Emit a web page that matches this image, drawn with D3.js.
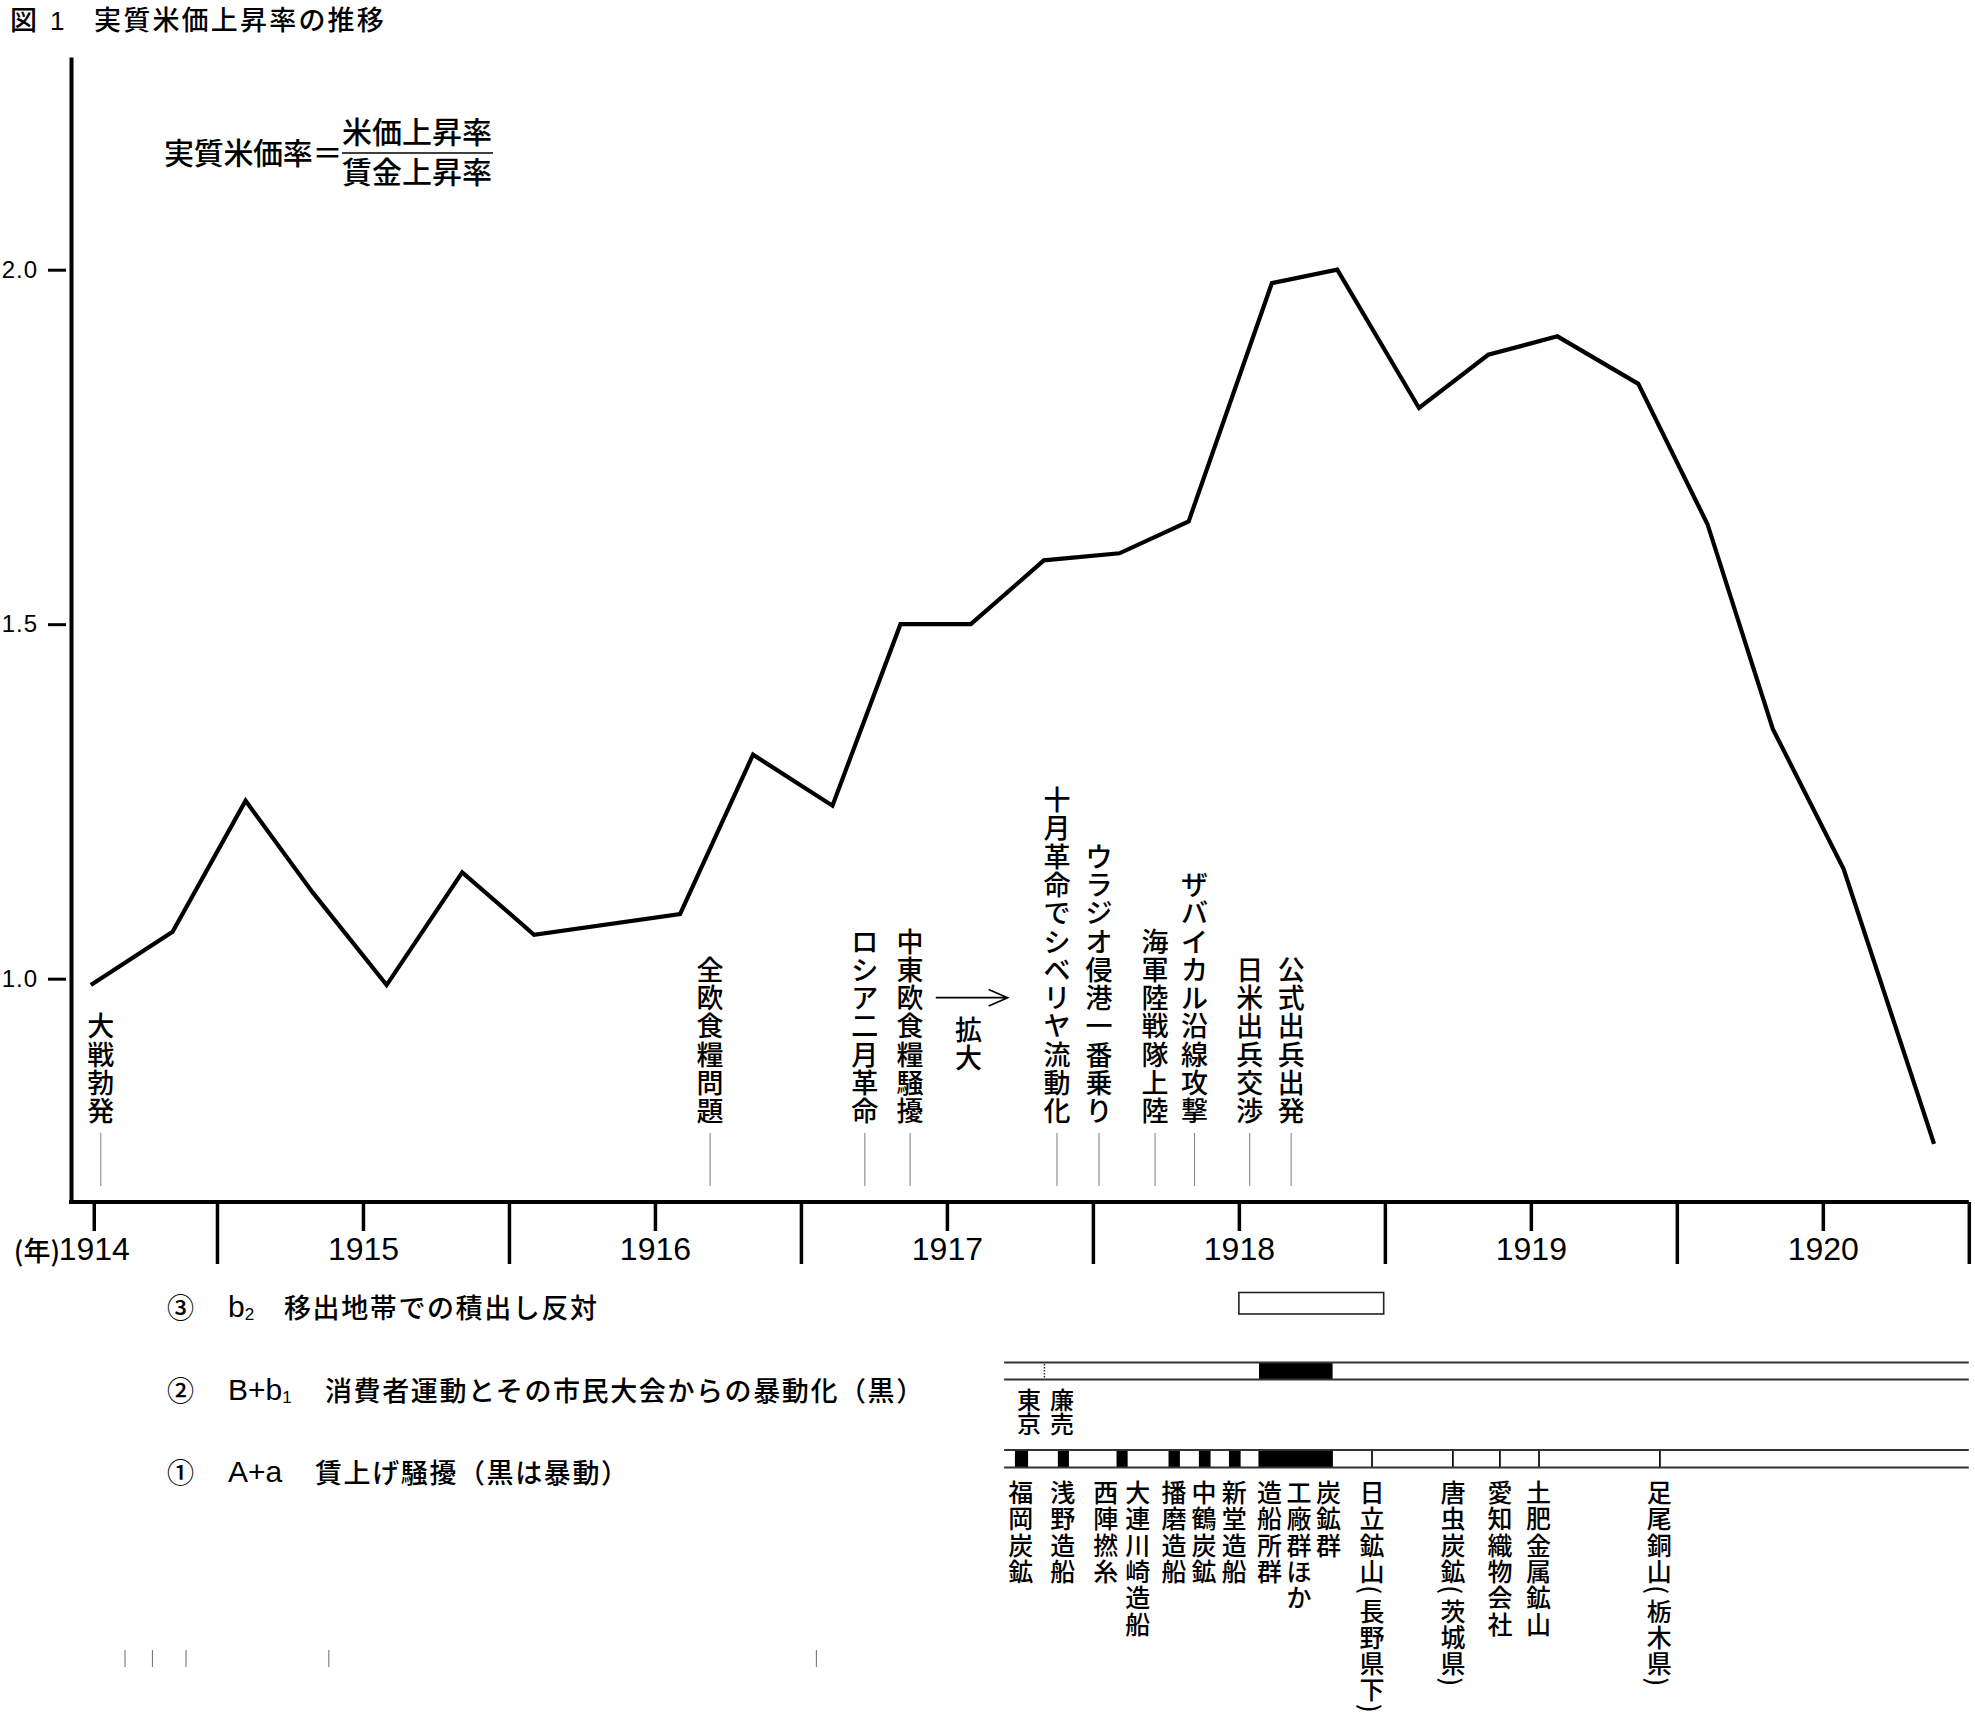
<!DOCTYPE html>
<html><head><meta charset="utf-8">
<script src="https://cdn.jsdelivr.net/npm/d3@7"></script>
<style>
html,body{margin:0;padding:0;background:#fff;}
svg{display:block;}
</style></head><body>
<svg id="c" width="1975" height="1716"></svg>
<script>
// ---------- data ----------
const periods = [1914.568,1914.848,1915.098,1915.327,1915.581,1915.840,1916.086,1916.586,1916.836,1917.108,1917.341,1917.582,1917.832,1918.091,1918.328,1918.613,1918.837,1919.117,1919.354,1919.591,1919.868,1920.105,1920.329,1920.571,1920.881];
const ratio   = [0.991,1.066,1.251,1.122,0.991,1.150,1.062,1.091,1.316,1.244,1.500,1.500,1.590,1.600,1.645,1.981,2.000,1.805,1.880,1.906,1.839,1.641,1.352,1.155,0.767];
const yTicks = [1.0, 1.5, 2.0];
const yearTicks = [1914.578,1915.5,1916.5,1917.5,1918.5,1919.5,1920.5];
const yearLabels = ["1914","1915","1916","1917","1918","1919","1920"];
const yearBounds = [1915,1916,1917,1918,1919,1920,1921];
const eventNames = ["大戦勃発","全欧食糧問題","ロシア二月革命","中東欧食糧騒擾","十月革命でシベリヤ流動化","ウラジオ侵港一番乗り","海軍陸戦隊上陸","ザバイカル沿線攻撃","日米出兵交渉","公式出兵出発"];
const eventDates = [1914.602,1916.689,1917.219,1917.374,1917.877,1918.021,1918.213,1918.348,1918.537,1918.679];
const arrowSpan = [1917.462,1917.708];
const arrowLabel = "拡大";
const arrowLabelDate = 1917.574;
const rowNums = ["③","②","①"];
const rowCodes = [["b","2"],["B+b","1"],["A+a",""]];
const rowTexts = ["移出地帯での積出し反対","消費者運動とその市民大会からの暴動化（黒）","賃上げ騒擾（黒は暴動）"];
const bandSpan = [1917.696,1921.0];
const b2Box = [1918.5,1918.996];
const b1Black = [[1918.569,1918.821]];
const b1Dotted = [1917.834];
const b1Labels = ["東京","廉売"];
const b1LabelDates = [1917.781,1917.894];
const aBlack = [[1917.733,1917.778],[1917.880,1917.918],[1918.081,1918.119],[1918.259,1918.298],[1918.363,1918.403],[1918.466,1918.506],[1918.567,1918.822]];
const aDividers = [1918.956,1919.233,1919.394,1919.528,1919.942];
const aLabels = ["福岡炭鉱","浅野造船","西陣撚糸","大連川崎造船","播磨造船","中鶴炭鉱","新堂造船","造船所群","工廠群ほか","炭鉱群","日立鉱山（長野県下）","唐虫炭鉱（茨城県）","愛知織物会社","土肥金属鉱山","足尾銅山（栃木県）"];
const aLabelDates = [1917.753,1917.897,1918.044,1918.154,1918.278,1918.381,1918.484,1918.605,1918.706,1918.807,1918.956,1919.233,1919.394,1919.526,1919.940];
const strayMarks = [1914.685,1914.779,1914.894,1915.383,1917.053];

// ---------- setup ----------
const CJK = '"Noto Sans CJK JP","Noto Sans CJK SC",sans-serif';
const LAT = '"Liberation Sans",Arial,sans-serif';
const NAR = '"Liberation Sans Narrow","Arial Narrow","Liberation Sans",sans-serif';
const W8 = 500;
const svg = d3.select("#c");
svg.append("rect").attr("width",1975).attr("height",1716).attr("fill","#fff");

const x = d3.scaleLinear().domain([1914.5,1921]).range([71,1968.8]);
const y = d3.scaleLinear().domain([0.685,2.3]).range([1202,57]);

// title
const tg = svg.append("g").attr("font-family",CJK).attr("font-weight",W8).attr("fill","#000");
tg.append("text").attr("x",10).attr("y",30).attr("font-size",27).text("図");
tg.append("text").attr("x",50).attr("y",30).attr("font-size",26).attr("font-family",LAT).text("1");
tg.append("text").attr("x",94).attr("y",30).attr("font-size",27).attr("letter-spacing",2.2).text("実質米価上昇率の推移");

// formula
const fg = svg.append("g").attr("font-family",CJK).attr("font-weight",W8).attr("fill","#000").attr("font-size",30);
fg.append("text").attr("x",164).attr("y",164).attr("letter-spacing",-0.3).text("実質米価率＝");
fg.append("text").attr("x",342).attr("y",143).text("米価上昇率");
fg.append("line").attr("x1",342).attr("x2",493).attr("y1",153).attr("y2",153).attr("stroke","#000").attr("stroke-width",1.6);
fg.append("text").attr("x",342).attr("y",183).text("賃金上昇率");

// axes
const yAxis = svg.append("g").attr("transform","translate(71,0)")
  .call(d3.axisLeft(y).tickValues(yTicks).tickSize(18).tickSizeOuter(0).tickFormat(d3.format(".1f")));
yAxis.select(".domain").attr("stroke","#000").attr("stroke-width",4);
yAxis.selectAll(".tick line").attr("x1",-5).attr("x2",-23).attr("stroke","#000").attr("stroke-width",3);
yAxis.selectAll(".tick text").attr("x",-33).attr("font-family",LAT).attr("font-size",24).attr("letter-spacing",1).attr("fill","#000");

const xB = svg.append("g").attr("transform","translate(0,1202)")
  .call(d3.axisBottom(x).tickValues(yearBounds).tickSize(62).tickSizeOuter(0).tickFormat(""));
xB.select(".domain").attr("stroke","#000").attr("stroke-width",4).attr("d","M69,0H1968.8");
xB.selectAll(".tick line").attr("stroke","#000").attr("stroke-width",3.5);
const xY = svg.append("g").attr("transform","translate(0,1202)")
  .call(d3.axisBottom(x).tickValues(yearTicks).tickSize(29).tickPadding(6).tickSizeOuter(0).tickFormat((d,i)=>yearLabels[i]));
xY.select(".domain").remove();
xY.selectAll(".tick line").attr("stroke","#000").attr("stroke-width",3.5);
xY.selectAll(".tick text").attr("font-family",NAR).attr("font-size",32).attr("fill","#000");
svg.append("text").attr("x",60).attr("y",1261).attr("text-anchor","end")
  .attr("font-family",CJK).attr("font-weight",W8).attr("font-size",27).text("(年)");

// line
const pts = periods.map((p,i)=>[p,ratio[i]]);
svg.append("path").datum(pts)
  .attr("d", d3.line().x(d=>x(d[0])).y(d=>y(d[1])))
  .attr("fill","none").attr("stroke","#000").attr("stroke-width",4.2).attr("stroke-linejoin","miter");

// vertical text helper: one glyph per row
function vtext(g, str, cx, y0, size, pitch, anchor){
  const chars = Array.from(str);
  const isParen = c => "（）()".includes(c);
  const ps = chars.map(c => isParen(c) ? pitch*0.5 : pitch);
  const total = d3.sum(ps);
  let cy = anchor === "bottom" ? y0 - total : y0;
  chars.forEach((c,i)=>{
    const mid = cy + ps[i]/2;
    if (isParen(c)) {
      const ch = (c==="（"||c==="(") ? "(" : ")";
      g.append("text").attr("transform",`translate(${cx},${mid}) rotate(90)`)
        .attr("text-anchor","middle").attr("dominant-baseline","central")
        .attr("font-family",CJK).attr("font-weight",W8).attr("font-size",size).text(ch);
    } else {
      g.append("text").attr("x",cx).attr("y",mid)
        .attr("text-anchor","middle").attr("dominant-baseline","central")
        .attr("font-family",CJK).attr("font-weight",W8).attr("font-size",size).text(c);
    }
    cy += ps[i];
  });
}

// event labels
const eg = svg.append("g").attr("fill","#000");
eventNames.forEach((n,i)=>{
  const cx = x(eventDates[i]);
  vtext(eg, n, cx, 1124, 27, 28.3, "bottom");
  eg.append("line").attr("x1",cx).attr("x2",cx).attr("y1",1133).attr("y2",1186)
    .attr("stroke","#888").attr("stroke-width",1.1);
});
// arrow 拡大
const ax0 = x(arrowSpan[0]), ax1 = x(arrowSpan[1]);
eg.append("path").attr("d",`M${ax0},997.7H${ax1}M${ax1-19},989.5L${ax1},997.7L${ax1-19},1006`)
  .attr("fill","none").attr("stroke","#000").attr("stroke-width",1.7);
vtext(eg, arrowLabel, x(arrowLabelDate), 1014, 27, 28, "top");

// legend rows
const rowY = [1306,1389,1471];
const lg = svg.append("g").attr("fill","#000");
rowNums.forEach((n,i)=>{
  lg.append("text").attr("x",167).attr("y",rowY[i]).attr("dominant-baseline","central")
    .attr("font-family",CJK).attr("font-weight",W8).attr("font-size",27).text(n);
  const t = lg.append("text").attr("x",228).attr("y",rowY[i]).attr("dominant-baseline","central")
    .attr("font-family",NAR).attr("font-size",30);
  t.append("tspan").text(rowCodes[i][0]);
  if (rowCodes[i][1]) t.append("tspan").attr("font-size",17).attr("dy",8).text(rowCodes[i][1]);
  const tx = [284,325,315][i];
  lg.append("text").attr("x",tx).attr("y",rowY[i]).attr("dominant-baseline","central")
    .attr("font-family",CJK).attr("font-weight",W8).attr("font-size",27).attr("letter-spacing",1.6).text(rowTexts[i]);
});

// ③ box
lg.append("rect").attr("x",x(b2Box[0])).attr("y",1292.5).attr("width",x(b2Box[1])-x(b2Box[0])).attr("height",21.5)
  .attr("fill","#fff").attr("stroke","#222").attr("stroke-width",1.6);

// ② band
const bx0 = x(bandSpan[0]), bx1 = x(bandSpan[1]);
b1Black.forEach(b=>lg.append("rect").attr("x",x(b[0])).attr("y",1362).attr("width",x(b[1])-x(b[0])).attr("height",18).attr("fill","#000"));
b1Dotted.forEach(d=>lg.append("line").attr("x1",x(d)).attr("x2",x(d)).attr("y1",1364).attr("y2",1379)
  .attr("stroke","#333").attr("stroke-width",1.5).attr("stroke-dasharray","1.5,1.5"));
lg.append("line").attr("x1",bx0).attr("x2",bx1).attr("y1",1362.5).attr("y2",1362.5).attr("stroke","#333").attr("stroke-width",1.8);
lg.append("line").attr("x1",bx0).attr("x2",bx1).attr("y1",1379.5).attr("y2",1379.5).attr("stroke","#333").attr("stroke-width",2.2);
b1Labels.forEach((s,i)=>vtext(lg, s, x(b1LabelDates[i]), 1386, 24, 24.5, "top"));

// ① band
aBlack.forEach(b=>lg.append("rect").attr("x",x(b[0])).attr("y",1450).attr("width",x(b[1])-x(b[0])).attr("height",18).attr("fill","#000"));
aDividers.forEach(d=>lg.append("line").attr("x1",x(d)).attr("x2",x(d)).attr("y1",1450).attr("y2",1468).attr("stroke","#111").attr("stroke-width",1.8));
lg.append("line").attr("x1",bx0).attr("x2",bx1).attr("y1",1450).attr("y2",1450).attr("stroke","#333").attr("stroke-width",1.8);
lg.append("line").attr("x1",bx0).attr("x2",bx1).attr("y1",1467.5).attr("y2",1467.5).attr("stroke","#333").attr("stroke-width",2.2);
aLabels.forEach((s,i)=>vtext(lg, s, x(aLabelDates[i]), 1478, 25, 26.3, "top"));

// stray marks at bottom
strayMarks.forEach(d=>lg.append("line").attr("x1",x(d)).attr("x2",x(d)).attr("y1",1650).attr("y2",1667).attr("stroke","#777").attr("stroke-width",1.1));
</script>
</body></html>
